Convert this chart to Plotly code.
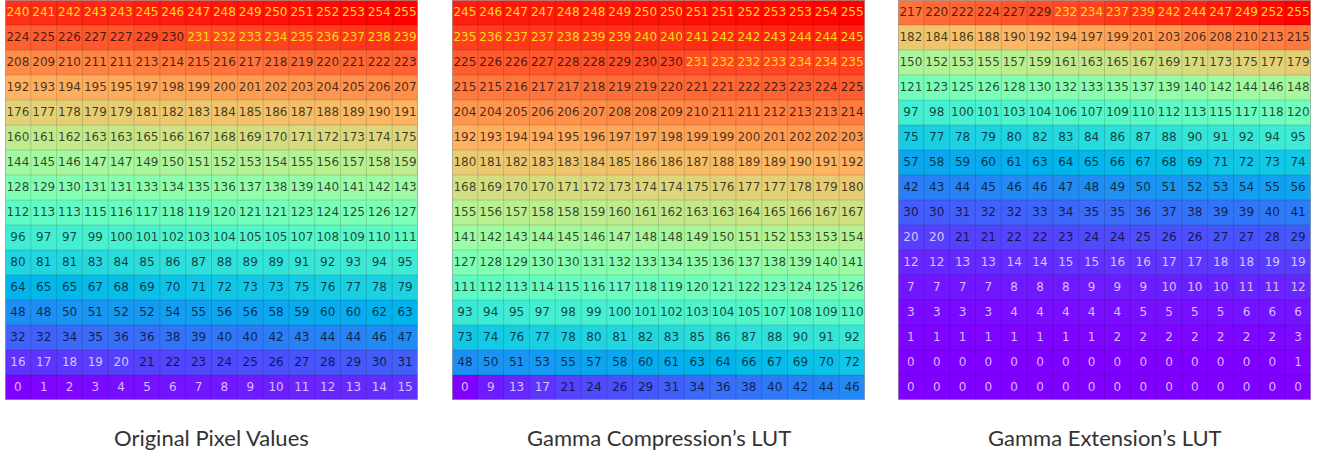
import math
import plotly.graph_objects as go

# ---------------- data (rows listed top -> bottom) ----------------
original_rows = [
    [240, 241, 242, 243, 243, 245, 246, 247, 248, 249, 250, 251, 252, 253, 254, 255],
    [224, 225, 226, 227, 227, 229, 230, 231, 232, 233, 234, 235, 236, 237, 238, 239],
    [208, 209, 210, 211, 211, 213, 214, 215, 216, 217, 218, 219, 220, 221, 222, 223],
    [192, 193, 194, 195, 195, 197, 198, 199, 200, 201, 202, 203, 204, 205, 206, 207],
    [176, 177, 178, 179, 179, 181, 182, 183, 184, 185, 186, 187, 188, 189, 190, 191],
    [160, 161, 162, 163, 163, 165, 166, 167, 168, 169, 170, 171, 172, 173, 174, 175],
    [144, 145, 146, 147, 147, 149, 150, 151, 152, 153, 154, 155, 156, 157, 158, 159],
    [128, 129, 130, 131, 131, 133, 134, 135, 136, 137, 138, 139, 140, 141, 142, 143],
    [112, 113, 113, 115, 116, 117, 118, 119, 120, 121, 121, 123, 124, 125, 126, 127],
    [96, 97, 97, 99, 100, 101, 102, 103, 104, 105, 105, 107, 108, 109, 110, 111],
    [80, 81, 81, 83, 84, 85, 86, 87, 88, 89, 89, 91, 92, 93, 94, 95],
    [64, 65, 65, 67, 68, 69, 70, 71, 72, 73, 73, 75, 76, 77, 78, 79],
    [48, 48, 50, 51, 52, 52, 54, 55, 56, 56, 58, 59, 60, 60, 62, 63],
    [32, 32, 34, 35, 36, 36, 38, 39, 40, 40, 42, 43, 44, 44, 46, 47],
    [16, 17, 18, 19, 20, 21, 22, 23, 24, 25, 26, 27, 28, 29, 30, 31],
    [0, 1, 2, 3, 4, 5, 6, 7, 8, 9, 10, 11, 12, 13, 14, 15],
]

compression_rows = [
    [245, 246, 247, 247, 248, 248, 249, 250, 250, 251, 251, 252, 253, 253, 254, 255],
    [235, 236, 237, 237, 238, 239, 239, 240, 240, 241, 242, 242, 243, 244, 244, 245],
    [225, 226, 226, 227, 228, 228, 229, 230, 230, 231, 232, 232, 233, 234, 234, 235],
    [215, 215, 216, 217, 217, 218, 219, 219, 220, 221, 221, 222, 223, 223, 224, 225],
    [204, 204, 205, 206, 206, 207, 208, 208, 209, 210, 211, 211, 212, 213, 213, 214],
    [192, 193, 194, 194, 195, 196, 197, 197, 198, 199, 199, 200, 201, 202, 202, 203],
    [180, 181, 182, 183, 183, 184, 185, 186, 186, 187, 188, 189, 189, 190, 191, 192],
    [168, 169, 170, 170, 171, 172, 173, 174, 174, 175, 176, 177, 177, 178, 179, 180],
    [155, 156, 157, 158, 158, 159, 160, 161, 162, 163, 163, 164, 165, 166, 167, 167],
    [141, 142, 143, 144, 145, 146, 147, 148, 148, 149, 150, 151, 152, 153, 153, 154],
    [127, 128, 129, 130, 130, 131, 132, 133, 134, 135, 136, 137, 138, 139, 140, 141],
    [111, 112, 113, 114, 115, 116, 117, 118, 119, 120, 121, 122, 123, 124, 125, 126],
    [93, 94, 95, 97, 98, 99, 100, 101, 102, 103, 104, 105, 107, 108, 109, 110],
    [73, 74, 76, 77, 78, 80, 81, 82, 83, 85, 86, 87, 88, 90, 91, 92],
    [48, 50, 51, 53, 55, 57, 58, 60, 61, 63, 64, 66, 67, 69, 70, 72],
    [0, 9, 13, 17, 21, 24, 26, 29, 31, 34, 36, 38, 40, 42, 44, 46],
]

extension_rows = [
    [217, 220, 222, 224, 227, 229, 232, 234, 237, 239, 242, 244, 247, 249, 252, 255],
    [182, 184, 186, 188, 190, 192, 194, 197, 199, 201, 203, 206, 208, 210, 213, 215],
    [150, 152, 153, 155, 157, 159, 161, 163, 165, 167, 169, 171, 173, 175, 177, 179],
    [121, 123, 125, 126, 128, 130, 132, 133, 135, 137, 139, 140, 142, 144, 146, 148],
    [97, 98, 100, 101, 103, 104, 106, 107, 109, 110, 112, 113, 115, 117, 118, 120],
    [75, 77, 78, 79, 80, 82, 83, 84, 86, 87, 88, 90, 91, 92, 94, 95],
    [57, 58, 59, 60, 61, 63, 64, 65, 66, 67, 68, 69, 71, 72, 73, 74],
    [42, 43, 44, 45, 46, 46, 47, 48, 49, 50, 51, 52, 53, 54, 55, 56],
    [30, 30, 31, 32, 32, 33, 34, 35, 35, 36, 37, 38, 39, 39, 40, 41],
    [20, 20, 21, 21, 22, 22, 23, 24, 24, 25, 26, 26, 27, 27, 28, 29],
    [12, 12, 13, 13, 14, 14, 15, 15, 16, 16, 17, 17, 18, 18, 19, 19],
    [7, 7, 7, 7, 8, 8, 8, 9, 9, 9, 10, 10, 10, 11, 11, 12],
    [3, 3, 3, 3, 4, 4, 4, 4, 4, 5, 5, 5, 5, 6, 6, 6],
    [1, 1, 1, 1, 1, 1, 1, 1, 2, 2, 2, 2, 2, 2, 2, 3],
    [0, 0, 0, 0, 0, 0, 0, 0, 0, 0, 0, 0, 0, 0, 0, 1],
    [0, 0, 0, 0, 0, 0, 0, 0, 0, 0, 0, 0, 0, 0, 0, 0],
]

panel_titles = ["Original Pixel Values", "Gamma Compression\u2019s LUT", "Gamma Extension\u2019s LUT"]
columns = list(range(16))
rows_idx = list(range(16))

# ---------------- styling ----------------
W, H = 1323, 454
panel_px = [(5, 418), (452, 865), (898, 1311)]
y_top_px, y_bot_px = 0, 400


def rainbow(t):
    r = min(1.0, max(0.0, abs(2 * t - 0.5)))
    g = min(1.0, max(0.0, math.sin(math.pi * t)))
    b = min(1.0, max(0.0, math.cos(math.pi * t / 2)))
    return "rgb(%d,%d,%d)" % (round(r * 255), round(g * 255), round(b * 255))


colorscale = [[i / 40, rainbow(i / 40)] for i in range(41)]


def text_color(v):
    if v > 230:
        return "rgb(255,220,20)"
    if v <= 20:
        return "rgba(255,255,255,0.72)"
    return "rgba(0,0,0,0.72)"


fig = go.Figure()
shapes = []
annotations = []
layout_axes = {}

for p, (rows, title) in enumerate(zip([original_rows, compression_rows, extension_rows], panel_titles)):
    z = rows[::-1]  # bottom row first
    sfx = "" if p == 0 else str(p + 1)
    xa, ya = "x" + sfx, "y" + sfx
    fig.add_trace(go.Heatmap(
        z=z, x=columns, y=rows_idx, zmin=0, zmax=255,
        colorscale=colorscale, showscale=False, hoverinfo="skip",
        xaxis=xa, yaxis=ya,
    ))
    xs, ys, ts, cs = [], [], [], []
    for r, row in enumerate(z):
        for c, v in enumerate(row):
            xs.append(columns[c]); ys.append(rows_idx[r]); ts.append(str(v)); cs.append(text_color(v))
    fig.add_trace(go.Scatter(
        x=xs, y=ys, text=ts, mode="text",
        textfont=dict(family="DejaVu Sans", size=12, color=cs),
        hoverinfo="skip", showlegend=False, xaxis=xa, yaxis=ya,
    ))
    x0, x1 = panel_px[p]
    layout_axes["xaxis" + sfx] = dict(
        domain=[x0 / W, x1 / W], range=[-0.5, 15.5], visible=False,
        anchor=ya, fixedrange=True,
    )
    layout_axes["yaxis" + sfx] = dict(
        domain=[(H - y_bot_px) / H, (H - y_top_px) / H], range=[-0.5, 15.5], visible=False,
        anchor=xa, fixedrange=True,
    )
    # cell grid lines
    for k in range(1, 16):
        shapes.append(dict(type="line", xref=xa, yref=ya, x0=k - 0.5, x1=k - 0.5, y0=-0.5, y1=15.5,
                           line=dict(color="rgba(0,0,0,0.14)", width=1), layer="above"))
        shapes.append(dict(type="line", xref=xa, yref=ya, x0=-0.5, x1=15.5, y0=k - 0.5, y1=k - 0.5,
                           line=dict(color="rgba(0,0,0,0.14)", width=1), layer="above"))
    shapes.append(dict(type="rect", xref=xa, yref=ya, x0=-0.5, x1=15.5, y0=-0.5, y1=15.5,
                       line=dict(color="rgba(160,160,160,0.9)", width=1.5), layer="above"))
    annotations.append(dict(
        text=title, xref="paper", yref="paper", x=(x0 + x1) / 2 / W, y=(H - 437) / H,
        xanchor="center", yanchor="middle", showarrow=False,
        font=dict(family="Lato", size=22, color="#333333"),
    ))

fig.update_layout(
    width=W, height=H,
    margin=dict(l=0, r=0, t=0, b=0),
    paper_bgcolor="white", plot_bgcolor="white",
    showlegend=False,
    shapes=shapes, annotations=annotations,
    **layout_axes,
)

fig.write_html(
    "out.html",
    config={"displayModeBar": False},
    post_script="document.body.style.margin='0';document.body.style.padding='0';",
)
